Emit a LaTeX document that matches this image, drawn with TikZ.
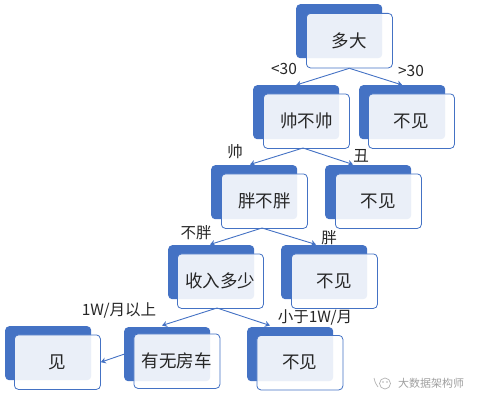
\documentclass[tikz,border=0pt]{standalone}
\usepackage{fontspec}
\setmainfont{Noto Sans CJK SC}
\usetikzlibrary{arrows.meta}
\definecolor{bluemain}{HTML}{4472C4}
\definecolor{inkc}{HTML}{262626}
\tikzset{
  x=1pt,y=-1pt,
  backbox/.style={draw=none,fill=bluemain,rounded corners=4pt,minimum width=86pt,minimum height=54pt,inner sep=0pt,anchor=north west},
  frontbox/.style={draw=bluemain,line width=0.8pt,fill=white,fill opacity=0.89,text opacity=1,text=inkc,rounded corners=4pt,minimum width=86pt,minimum height=54.5pt,inner sep=0pt,font=\fontsize{17.5pt}{19pt}\selectfont,anchor=north west},
  edgelabel/.style={text=inkc,inner sep=0pt,font=\fontsize{15.5pt}{17pt}\selectfont},
  conn/.style={draw=bluemain,line width=0.9pt,-{Stealth[length=5pt,width=6pt]}},
  wm/.style={text=gray!75,inner sep=0pt,font=\fontsize{11pt}{13pt}\selectfont}
}
\newcommand{\treebox}[6]{%
  \node[backbox] (#1b) at (#2,#3) {};
  \node[frontbox] (#1) at (#4,#5) {#6};
}
\begin{document}
\begin{tikzpicture}
\useasboundingbox (0,0) rectangle (478,404);
\treebox{root}{296}{4}{306}{13}{多大}
\treebox{shuai}{253}{85}{263}{93.5}{帅不帅}
\treebox{noa}{359}{85}{368}{93.5}{不见}
\treebox{pang}{211}{165}{221}{173.5}{胖不胖}
\treebox{nob}{325}{165}{335}{173.5}{不见}
\treebox{income}{168}{245}{177}{253.5}{收入多少}
\treebox{noc}{281}{245}{291}{253.5}{不见}
\treebox{see}{5}{326}{14}{334.5}{见}
\treebox{house}{124}{327}{133.5}{333.5}{有无房车}
\treebox{nod}{247}{327}{256.5}{335}{不见}
\coordinate (shuaiout) at (303,148);
\coordinate (pangout) at (262,228);
\coordinate (incomeout) at (217,308);
\coordinate (pangin) at (250,164.5);
\coordinate (nobin) at (353,164.5);
\coordinate (incomein) at (210,244.5);
\coordinate (nocin) at (316,244.5);
\coordinate (housein) at (162,325.5);
\coordinate (nodin) at (270,325.5);
\draw[conn] (root.south) -- (shuaib.north);
\draw[conn] (root.south) -- (noab.north);
\draw[conn] (shuaiout) -- (pangin);
\draw[conn] (shuaiout) -- (nobin);
\draw[conn] (pangout) -- (incomein);
\draw[conn] (pangout) -- (nocin);
\draw[conn] (incomeout) -- (housein);
\draw[conn] (incomeout) -- (nodin);
\draw[conn] (houseb.west) -- (see.east);
\node[edgelabel] (la) at (284,69) {<30};
\node[edgelabel] (lb) at (411,71) {>30};
\node[edgelabel] (lc) at (235,152) {帅};
\node[edgelabel] (ld) at (361,156) {丑};
\node[edgelabel] (le) at (196,233) {不胖};
\node[edgelabel] (lf) at (329,238) {胖};
\node[edgelabel] (lg) at (119,310) {1W/月以上};
\node[edgelabel] (lh) at (315,317) {小于1W/月};
\node[wm] (wmtext) at (431,383.5) {大数据架构师};
\draw[gray!60,line width=0.7pt] (385,383.5) circle (5.5);
\draw[gray!60,line width=0.7pt] (374,378) .. controls (375,382) and (376,385) .. (378,387);
\fill[gray!60] (383,382) circle (0.8) (387,382) circle (0.8);
\end{tikzpicture}
\end{document}
